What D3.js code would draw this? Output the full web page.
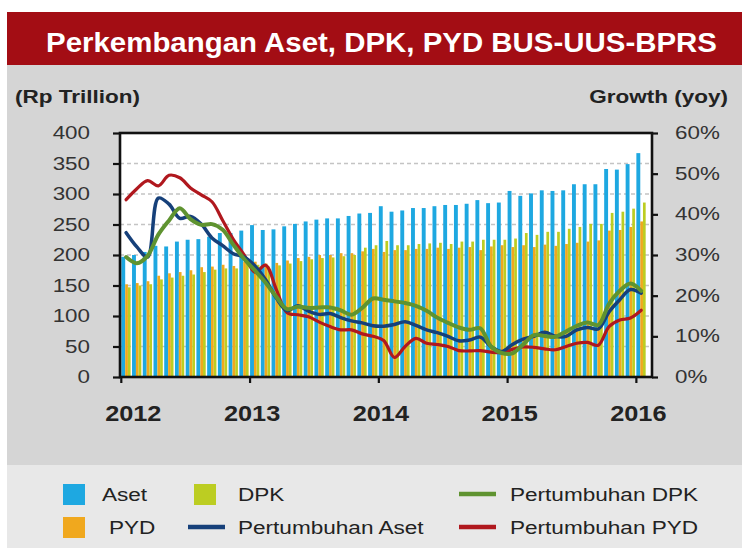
<!DOCTYPE html>
<html><head><meta charset="utf-8">
<script src="https://cdn.jsdelivr.net/npm/d3@7"></script>
<style>body{margin:0;background:#fff}svg{display:block}text{font-family:"Liberation Sans",Arial,sans-serif}</style>
</head><body><svg id="c" width="742" height="549"></svg>
<script>
const categories = ["Jan-12","Feb-12","Mar-12","Apr-12","May-12","Jun-12","Jul-12","Aug-12","Sep-12","Oct-12","Nov-12","Dec-12",
"Jan-13","Feb-13","Mar-13","Apr-13","May-13","Jun-13","Jul-13","Aug-13","Sep-13","Oct-13","Nov-13","Dec-13",
"Jan-14","Feb-14","Mar-14","Apr-14","May-14","Jun-14","Jul-14","Aug-14","Sep-14","Oct-14","Nov-14","Dec-14",
"Jan-15","Feb-15","Mar-15","Apr-15","May-15","Jun-15","Jul-15","Aug-15","Sep-15","Oct-15","Nov-15","Dec-15","Jan-16"];
const aset = [197,200,205,215,214,222,225,226,230,236,236,240,249,241,242,247,251,255,258,260,260,264,268,269,280,271,273,277,277,280,282,282,284,290,285,286,305,297,301,306,305,306,316,316,316,341,340,349,367];
const pyd = [152,154,157,166,170,172,175,180,181,184,182,189,189,186,187,191,195,197,200,200,203,203,206,210,205,208,208,210,210,212,210,212,213,208,214,216,213,216,213,217,215,218,220,222,224,240,241,246,255];
const dpk = [147,150,152,160,163,166,168,172,176,178,178,186,184,181,183,186,190,193,195,196,198,200,212,216,223,216,216,218,219,220,218,222,222,225,225,225,227,236,233,238,238,243,246,251,251,269,271,276,286];
const growthAset = [35.5,32.0,29.5,44.0,42.5,39.0,39.5,37.6,34.2,32.3,30.3,29.5,27.3,23.9,19.4,16.3,17.5,16.2,15.4,15.6,14.6,13.8,13.3,12.6,12.5,12.9,13.6,12.7,11.6,10.9,10.0,8.9,9.1,9.8,7.5,6.3,8.0,9.3,10.0,11.0,10.0,10.0,11.6,12.2,11.8,16.0,19.0,21.5,20.6];
const growthDpk = [29.5,28.0,29.8,35.0,38.5,41.5,38.8,37.4,37.6,36.2,32.5,29.0,26.2,23.2,19.7,16.7,17.3,17.0,17.1,17.1,16.4,15.3,17.0,19.3,19.0,18.6,18.2,17.5,16.3,14.6,13.3,12.2,11.6,12.0,7.5,5.9,5.8,8.0,10.3,10.1,9.9,11.2,12.6,13.4,12.8,18.0,21.2,23.0,21.2];
const growthPyd = [43.6,46.3,48.3,47.0,49.6,49.0,46.5,44.8,43.1,38.5,33.8,30.0,25.8,27.5,21.5,15.8,15.3,14.8,13.5,12.4,11.6,11.6,10.6,10.0,9.0,4.8,7.5,9.5,8.3,8.0,7.5,6.5,6.4,6.5,6.1,6.0,6.8,7.4,7.3,6.9,6.7,7.5,8.3,8.5,7.8,12.4,14.0,14.5,16.4];
const leftTicks = [0,50,100,150,200,250,300,350,400];
const rightTicks = [0,10,20,30,40,50,60];
const yearLabels = ["2012","2013","2014","2015","2016"];
const yearTickMonths = ["Jan-12","Jan-13","Jan-14","Jan-15","Jan-16"];
const barSeries = ["Aset","PYD","DPK"];
const legendLabels = ["Aset","PYD","DPK","Pertumbuhan Aset","Pertumbuhan DPK","Pertumbuhan PYD"];
const titleText = "Perkembangan Aset, DPK, PYD BUS-UUS-BPRS";

const svg = d3.select("#c");
const L=120,R=652,T=133,B=377;
const col = {Aset:"#1ea8e1", PYD:"#f0a81e", DPK:"#bccd22", gA:"#16407a", gD:"#5f9330", gP:"#b0181e"};

function stretch(sel, sx){
  sel.each(function(){
    const t=d3.select(this);
    const x=+t.attr("x")||0, y=+t.attr("y")||0;
    t.attr("x",0).attr("y",0).attr("transform",`translate(${x},${y}) scale(${sx},1)`);
  });
}

// panels
svg.append("rect").attr("x",7).attr("y",12).attr("width",735).attr("height",53).attr("fill","#a30d14");
svg.append("rect").attr("x",7).attr("y",65).attr("width",735).attr("height",400).attr("fill","#d5d5d5");
svg.append("rect").attr("x",7).attr("y",465).attr("width",735).attr("height",83).attr("fill","#e8e8e8");

// title
const tt = svg.append("text").text(titleText).attr("x",381.5).attr("y",52)
  .attr("text-anchor","middle").attr("fill","#fff").attr("font-weight","bold").attr("font-size",28);
{ const w = tt.node().getComputedTextLength(); stretch(tt, 671/w); }

// headers
const h1 = svg.append("text").text("(Rp Trillion)").attr("x",15).attr("y",103)
  .attr("font-weight","bold").attr("font-size",18).attr("fill","#222");
stretch(h1,1.25);
const h2 = svg.append("text").text("Growth (yoy)").attr("x",728).attr("y",103).attr("text-anchor","end")
  .attr("font-weight","bold").attr("font-size",18).attr("fill","#222");
stretch(h2,1.25);

// scales
const x0 = d3.scaleBand().domain(categories).range([121.3, 647.1]).padding(0);
const step = x0.step();
const barOff = {Aset:0, PYD:3.9, DPK:6.6};
const barW = {Aset:3.9, PYD:2.7, DPK:2.7};
const yL = d3.scaleLinear().domain([0,400]).range([B,T]);
const yR = d3.scaleLinear().domain([0,60]).range([B,T]);

// plot bg
svg.append("rect").attr("x",L).attr("y",T).attr("width",R-L).attr("height",B-T).attr("fill","#fff");

// grid
svg.append("g").selectAll("line").data(leftTicks.filter(d=>d>0 && d<400)).join("line")
  .attr("x1",L).attr("x2",R).attr("y1",d=>yL(d)).attr("y2",d=>yL(d))
  .attr("stroke","#c4c4c4").attr("stroke-width",1.6).attr("stroke-dasharray","4,3");

// bars
const barData = {Aset:aset, PYD:pyd, DPK:dpk};
const gb = svg.append("g");
barSeries.forEach(s=>{
  gb.append("g").selectAll("rect").data(barData[s]).join("rect")
    .attr("x",(d,i)=>x0(categories[i])+barOff[s])
    .attr("width",barW[s])
    .attr("y",d=>yL(d)).attr("height",d=>B-yL(d))
    .attr("fill",col[s]);
});

// lines
const line = d3.line()
  .x((d,i)=>x0(categories[i])+step*0.45)
  .y(d=>yR(d))
  .curve(d3.curveCatmullRom.alpha(0.5));
[[growthPyd,col.gP,3.2],[growthAset,col.gA,3.5],[growthDpk,col.gD,4]].forEach(([arr,c,w])=>{
  svg.append("path").datum(arr).attr("d",line).attr("fill","none").attr("stroke",c)
    .attr("stroke-width",w).attr("stroke-linejoin","round").attr("stroke-linecap","round");
});

// frame
svg.append("rect").attr("x",L).attr("y",T).attr("width",R-L).attr("height",B-T)
  .attr("fill","none").attr("stroke","#111").attr("stroke-width",2.6);

// axes
const ga = svg.append("g").attr("transform",`translate(${L},0)`)
  .call(d3.axisLeft(yL).tickValues(leftTicks).tickSize(7).tickPadding(23).tickFormat(d=>d));
const gr = svg.append("g").attr("transform",`translate(${R},0)`)
  .call(d3.axisRight(yR).tickValues(rightTicks).tickSize(6).tickPadding(17).tickFormat(d=>d+"%"));
[ga,gr].forEach(g=>{
  g.select(".domain").remove();
  g.selectAll(".tick line").attr("stroke","#111").attr("stroke-width",2.2);
  g.selectAll(".tick text").attr("fill","#333").attr("font-size",17.5).style("font-family",'"Liberation Sans",Arial,sans-serif');
  stretch(g.selectAll(".tick text"),1.28);
});

// bottom ticks
svg.append("g").selectAll("line").data(yearTickMonths).join("line")
  .attr("x1",d=>x0(d)).attr("x2",d=>x0(d)).attr("y1",B).attr("y2",B+6)
  .attr("stroke","#111").attr("stroke-width",2.2);
const yl = svg.append("g").selectAll("text").data(yearLabels).join("text")
  .text(d=>d)
  .attr("x",(d,i)=>x0(yearTickMonths[i]) + (i===0?12:2))
  .attr("y",421).attr("text-anchor","middle").attr("font-weight","bold")
  .attr("font-size",22).attr("fill","#222");
stretch(yl,1.15);

// legend
const lg = svg.append("g");
const sw = [
  {label:legendLabels[0], type:"rect", c:col.Aset, x:63, y:484, tx:102, ty:501},
  {label:legendLabels[1], type:"rect", c:col.PYD, x:63, y:517, tx:109, ty:534},
  {label:legendLabels[2], type:"rect", c:col.DPK, x:194, y:484, tx:238, ty:501},
  {label:legendLabels[3], type:"line", c:col.gA, x:188, y:527, tx:238, ty:534},
  {label:legendLabels[4], type:"line", c:col.gD, x:459, y:494, tx:510, ty:501},
  {label:legendLabels[5], type:"line", c:col.gP, x:459, y:527, tx:510, ty:534}
];
sw.forEach(s=>{
  if(s.type==="rect") lg.append("rect").attr("x",s.x).attr("y",s.y).attr("width",22).attr("height",21).attr("fill",s.c);
  else lg.append("line").attr("x1",s.x).attr("x2",s.x+37).attr("y1",s.y).attr("y2",s.y).attr("stroke",s.c).attr("stroke-width",4.5);
  const t = lg.append("text").text(s.label).attr("x",s.tx).attr("y",s.ty).attr("font-size",18.5).attr("fill","#222");
  stretch(t,1.22);
});
</script></body></html>
